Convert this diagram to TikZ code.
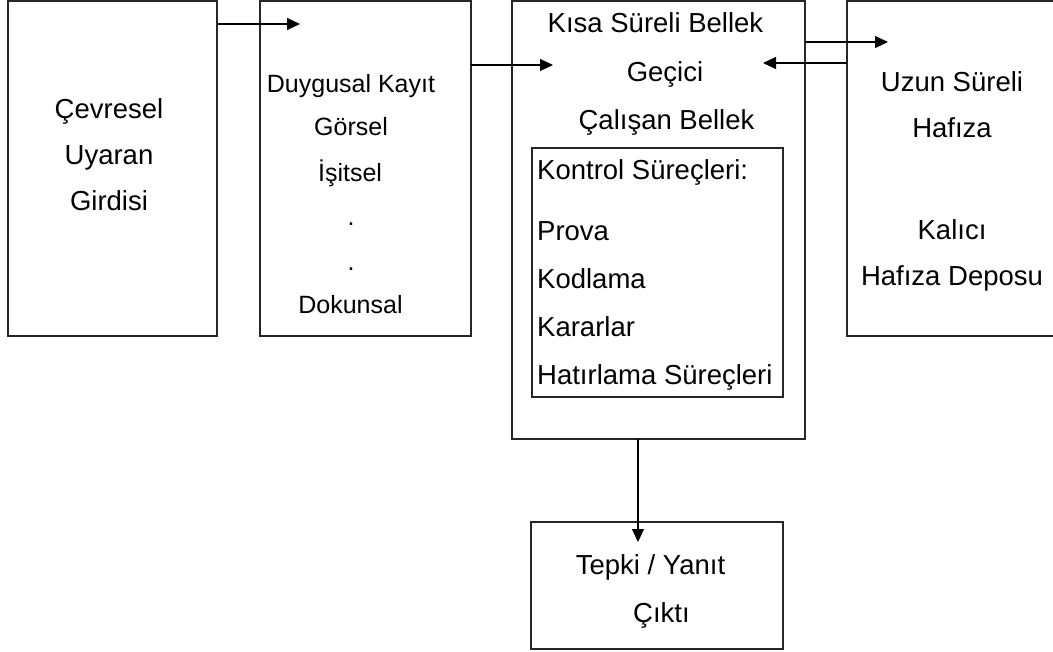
\documentclass[tikz,border=0pt]{standalone}
\usepackage{fontspec}
\setmainfont{Liberation Sans}
\usetikzlibrary{arrows.meta}
\begin{document}
\begin{tikzpicture}[x=1pt,y=-1pt,
  box/.style={draw=black!85, line width=1.5pt, rectangle, inner sep=0pt, outer sep=0pt},
  ibox/.style={draw=black!85, line width=1.2pt, rectangle, inner sep=0pt, outer sep=0pt},
  lbl/.style={inner sep=0pt, anchor=base, font=\fontsize{27.5}{33}\selectfont},
  lbls/.style={inner sep=0pt, anchor=base, font=\fontsize{25}{30}\selectfont},
  lbll/.style={inner sep=0pt, anchor=base west, font=\fontsize{27.5}{33}\selectfont},
  conn/.style={line width=1.1pt, -{Triangle[length=13pt,width=12pt]}}]
\useasboundingbox (0,0) rectangle (1053,652);
\clip (0,0) rectangle (1053,652);

% boxes
\node[box, minimum width=209pt, minimum height=335pt] (env) at (112.5,168.5) {};
\node[box, minimum width=211pt, minimum height=335pt] (sens) at (365.5,168.5) {};
\node[box, minimum width=293pt, minimum height=438pt] (stm) at (658.5,220) {};
\node[ibox, minimum width=251pt, minimum height=249pt] (ctrl) at (657.5,272.5) {};
\node[box, minimum width=218pt, minimum height=335pt] (ltm) at (956,168.5) {};
\node[box, minimum width=252pt, minimum height=127pt] (out) at (657,585.5) {};

% box 1 text
\node[lbl] (e1) at (109,119) {Çevresel};
\node[lbl] (e2) at (109,165) {Uyaran};
\node[lbl] (e3) at (109,211) {Girdisi};

% box 2 text
\node[lbls] (s1) at (351,93) {Duygusal Kayıt};
\node[lbls] (s2) at (351,136) {Görsel};
\node[lbls] (s3) at (350,182) {İşitsel};
\node[lbls] (s4) at (351,225.5) {.};
\node[lbls] (s5) at (351,271) {.};
\node[lbls] (s6) at (350.5,314) {Dokunsal};

% box 3 text
\node[lbl] (m1) at (655.5,33) {Kısa Süreli Bellek};
\node[lbl] (m2) at (665,82) {Geçici};
\node[lbl] (m3) at (666.5,130) {Çalışan Bellek};
\node[lbll] (c1) at (537,180) {Kontrol Süreçleri:};
\node[lbll] (c2) at (537,241) {Prova};
\node[lbll] (c3) at (537,288.5) {Kodlama};
\node[lbll] (c4) at (537,337) {Kararlar};
\node[lbll] (c5) at (537,385) {Hatırlama Süreçleri};

% box 4 text
\node[lbl] (l1) at (952,92) {Uzun Süreli};
\node[lbl] (l2) at (952,138) {Hafıza};
\node[lbl] (l3) at (952,240) {Kalıcı};
\node[lbl] (l4) at (952,286) {Hafıza Deposu};

% output text
\node[lbl] (o1) at (650.5,574) {Tepki / Yanıt};
\node[lbl] (o2) at (661.5,622) {Çıktı};

% connectors
\coordinate (t1) at (300,24);
\coordinate (t2) at (553,65);
\coordinate (t3) at (888,42);
\coordinate (t4) at (763,63);
\coordinate (t5) at (638,542);
\draw[conn] (env.east |- t1) -- (t1);
\draw[conn] (sens.east |- t2) -- (t2);
\draw[conn] (stm.east |- t3) -- (t3);
\draw[conn] (ltm.west |- t4) -- (t4);
\draw[conn] (stm.south -| t5) -- (t5);
\end{tikzpicture}
\end{document}
